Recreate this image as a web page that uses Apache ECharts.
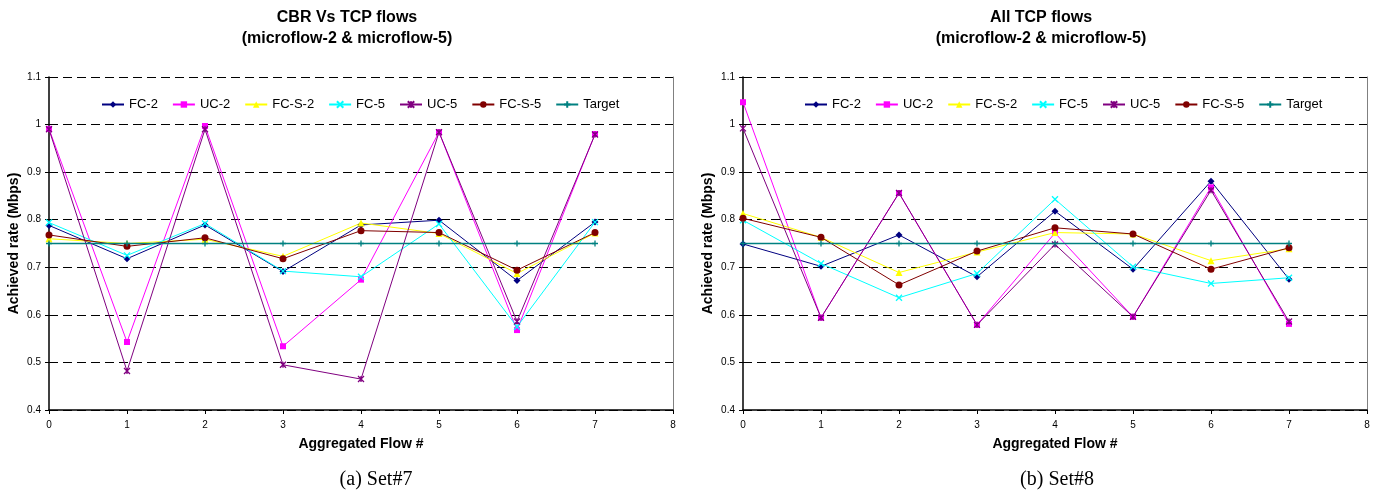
<!DOCTYPE html>
<html>
<head>
<meta charset="utf-8">
<script src="https://cdn.jsdelivr.net/npm/echarts@6/dist/echarts.min.js"></script>
<style>
  html, body { margin: 0; padding: 0; background: #fff; }
  #main { width: 1378px; height: 491px; }
</style>
</head>
<body>
<div id="main"></div>
<script>
// x positions (aggregated flow #)
const flows = [0, 1, 2, 3, 4, 5, 6, 7];
const seriesNames = ['FC-2', 'UC-2', 'FC-S-2', 'FC-5', 'UC-5', 'FC-S-5', 'Target'];
const yTicks = [0.4, 0.5, 0.6, 0.7, 0.8, 0.9, 1, 1.1];

// Set#7 : CBR Vs TCP flows
const set7Fc2  = [0.788, 0.718, 0.789, 0.691, 0.789, 0.799, 0.672, 0.795];
const set7Uc2  = [0.991, 0.543, 0.997, 0.534, 0.674, 0.984, 0.568, 0.980];
const set7Fcs2 = [0.760, 0.750, 0.759, 0.723, 0.793, 0.771, 0.687, 0.772];
const set7Fc5  = [0.794, 0.725, 0.792, 0.692, 0.680, 0.791, 0.575, 0.795];
const set7Uc5  = [0.990, 0.482, 0.990, 0.495, 0.465, 0.984, 0.586, 0.979];
const set7Fcs5 = [0.768, 0.744, 0.762, 0.718, 0.777, 0.773, 0.694, 0.773];

// Set#8 : all TCP flows
const set8Fc2  = [0.749, 0.702, 0.768, 0.680, 0.818, 0.696, 0.881, 0.675];
const set8Uc2  = [1.047, 0.594, 0.856, 0.579, 0.772, 0.596, 0.868, 0.581];
const set8Fcs2 = [0.813, 0.763, 0.689, 0.732, 0.773, 0.770, 0.714, 0.739];
const set8Fc5  = [0.799, 0.708, 0.636, 0.687, 0.843, 0.701, 0.666, 0.678];
const set8Uc5  = [0.992, 0.594, 0.856, 0.579, 0.748, 0.596, 0.862, 0.586];
const set8Fcs5 = [0.803, 0.763, 0.663, 0.734, 0.783, 0.770, 0.696, 0.741];

const target = [0.75, 0.75, 0.75, 0.75, 0.75, 0.75, 0.75, 0.75];

const FONT = '"Liberation Sans", Arial, sans-serif';
const SERIF = '"Liberation Serif", "Times New Roman", serif';

// marker / colour per series name
const styles = {
  'FC-2':   { color: '#000080', symbol: 'diamond', size: 7 },
  'UC-2':   { color: '#FF00FF', symbol: 'rect', size: 6 },
  'FC-S-2': { color: '#FFFF00', symbol: 'triangle', size: 7 },
  'FC-5':   { color: '#00FFFF', symbol: 'path://M0,0L10,10M10,0L0,10', size: 6, stroke: true },
  'UC-5':   { color: '#800080', symbol: 'path://M0,0L10,10M10,0L0,10M5,0L5,10', size: 6, stroke: true },
  'FC-S-5': { color: '#800000', symbol: 'circle', size: 7 },
  'Target': { color: '#008080', symbol: 'path://M5,0L5,10M0,5L10,5', size: 6, stroke: true, width: 1.6 }
};

function makeSeries(name, values, idx) {
  const s = styles[name];
  return {
    name: name,
    type: 'line',
    xAxisIndex: idx,
    yAxisIndex: idx * 2,
    data: values.map((v, i) => [flows[i], v]),
    symbol: s.symbol,
    symbolSize: s.size,
    showSymbol: true,
    animation: false,
    lineStyle: { color: s.color, width: s.width || 1 },
    itemStyle: s.stroke
      ? { color: s.color, borderColor: s.color, borderWidth: 1.3 }
      : { color: s.color, borderWidth: 0 },
    emphasis: { disabled: true }
  };
}

function xAxis(idx) {
  return {
    type: 'value', gridIndex: idx, min: 0, max: 8, interval: 1,
    axisLine: { lineStyle: { color: '#000', width: 1.5 } },
    axisTick: { show: true, inside: false, length: 4, lineStyle: { color: '#000' } },
    axisLabel: { color: '#000', fontSize: 10, fontFamily: FONT, margin: 10 },
    splitLine: { show: false },
    name: 'Aggregated Flow #', nameLocation: 'middle', nameGap: 27,
    nameTextStyle: { color: '#000', fontSize: 14, fontWeight: 'bold', fontFamily: FONT }
  };
}

function yAxis(idx) {
  return {
    type: 'value', gridIndex: idx, min: yTicks[0], max: yTicks[yTicks.length - 1], interval: 0.1,
    axisLine: { show: true, lineStyle: { color: '#000', width: 1.5 } },
    axisTick: { show: true, inside: false, length: 4, lineStyle: { color: '#000' } },
    axisLabel: { color: '#000', fontSize: 10, fontFamily: FONT, margin: 8 },
    splitLine: { show: true, lineStyle: { color: '#000', type: [9, 5], width: 1 } },
    name: 'Achieved rate (Mbps)', nameLocation: 'middle', nameGap: 28,
    nameTextStyle: { color: '#000', fontSize: 14, fontWeight: 'bold', fontFamily: FONT }
  };
}

// right-hand frame line of each plot
function frameAxis(idx) {
  return {
    type: 'value', gridIndex: idx, position: 'right', min: 0.4, max: 1.1, interval: 0.1,
    axisLine: { show: true, lineStyle: { color: '#808080', width: 1 } },
    axisTick: { show: false }, axisLabel: { show: false }, splitLine: { show: false }
  };
}

function legend(idx, left) {
  return {
    data: seriesNames,
    left: left, top: 93,
    itemWidth: 22, itemHeight: 8, itemGap: 14,
    textStyle: { color: '#000', fontSize: 13, fontFamily: FONT },
    selectedMode: false
  };
}

function titleText(text, cx, top) {
  return {
    text: text, left: cx, top: top, textAlign: 'center',
    textStyle: { fontSize: 16, fontWeight: 'bold', color: '#000', fontFamily: FONT, lineHeight: 21 }
  };
}

function caption(text, cx) {
  return {
    text: text, left: cx, top: 465, textAlign: 'center',
    textStyle: { fontSize: 20, fontWeight: 'normal', color: '#000', fontFamily: SERIF }
  };
}

const chart = echarts.init(document.getElementById('main'));
const set7 = [set7Fc2, set7Uc2, set7Fcs2, set7Fc5, set7Uc5, set7Fcs5, target];
const set8 = [set8Fc2, set8Uc2, set8Fcs2, set8Fc5, set8Uc5, set8Fcs5, target];

const series = [];
seriesNames.forEach((n, i) => series.push(makeSeries(n, set7[i], 0)));
seriesNames.forEach((n, i) => series.push(makeSeries(n, set8[i], 1)));

chart.setOption({
  backgroundColor: '#fff',
  animation: false,
  title: [
    titleText('CBR Vs TCP flows\n(microflow-2 & microflow-5)', 342, 2),
    titleText('All TCP flows\n(microflow-2 & microflow-5)', 1036, 2),
    caption('(a) Set#7', 371),
    caption('(b) Set#8', 1052)
  ],
  legend: [legend(0, 96), legend(1, 799)],
  grid: [
    { left: 49, right: 705, top: 77, bottom: 81 },
    { left: 743, right: 11, top: 77, bottom: 81 }
  ],
  xAxis: [xAxis(0), xAxis(1)],
  yAxis: [yAxis(0), frameAxis(0), yAxis(1), frameAxis(1)],
  series: series
});
</script>
</body>
</html>
